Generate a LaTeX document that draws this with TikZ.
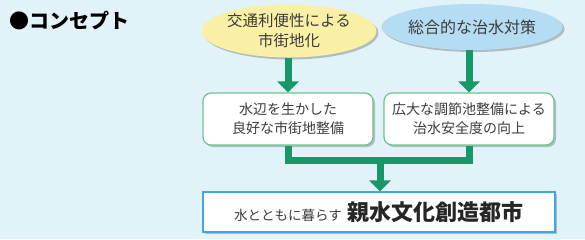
\documentclass[tikz,border=0pt]{standalone}
\usepackage{fontspec}
\newfontfamily\jp{Noto Sans CJK JP}
\usetikzlibrary{arrows.meta,shadows}
\definecolor{bgc}{RGB}{225,243,248}
\definecolor{yelc}{RGB}{250,240,165}
\definecolor{bluc}{RGB}{180,220,242}
\definecolor{linec}{RGB}{24,152,104}
\definecolor{boxg}{RGB}{110,195,140}
\definecolor{boxb}{RGB}{60,170,225}
\definecolor{txt}{RGB}{60,60,60}
\tikzset{
  shad/.style={drop shadow={shadow xshift=2pt,shadow yshift=-2pt,opacity=.22,fill=black}},
  ell/.style={ellipse,shad,text=txt,align=center,inner sep=0pt},
  gbox/.style={draw=boxg,line width=1.2pt,rounded corners=8pt,fill=white,shad,text=txt,align=center,
    minimum width=170pt,minimum height=52pt,font=\jp\fontsize{14}{19}\selectfont},
  gline/.style={draw=linec,line width=7pt},
  garrow/.style={gline,-{Triangle[width=21pt,length=11pt]}}
}
\usetikzlibrary{shapes.geometric}
\begin{document}
\begin{tikzpicture}[x=1pt,y=-1pt]
\fill[bgc] (0,0) rectangle (585,239);
\useasboundingbox (0,0) rectangle (585,239);
\node[anchor=west,font=\jp\bfseries\fontsize{20}{24}\selectfont,text=black,inner sep=0pt] (title) at (9,21) {●コンセプト};
\node[ell,fill=yelc,minimum width=172pt,minimum height=53pt,font=\jp\fontsize{15.5}{20}\selectfont] (e1) at (289,31) {交通利便性による\\市街地化};
\node[ell,fill=bluc,minimum width=172pt,minimum height=46pt,font=\jp\fontsize{16}{20}\selectfont] (e2) at (472,27) {総合的な治水対策};
\node[gbox] (b1) at (288,119) {水辺を生かした\\良好な市街地整備};
\node[gbox] (b2) at (469,119) {広大な調節池整備による\\治水安全度の向上};
\node[draw=boxb,line width=1.2pt,fill=white,shad,minimum width=352pt,minimum height=40pt,text=txt] (b3) at (379,212)
  {\jp\fontsize{13.5}{16}\selectfont 水とともに暮らす\hspace{6pt}{\bfseries\color{black!85}\fontsize{22}{24}\selectfont 親水文化創造都市}};
\coordinate (j) at (380,160);
\draw[garrow] (e1.south -| b1.north) -- (b1.north);
\draw[garrow] (e2.south -| b2.north) -- (b2.north);
\draw[gline] (b1.south) |- ([xshift=3.5pt]j);
\draw[gline] (b2.south) |- ([xshift=-3.5pt]j);
\draw[garrow] ([yshift=-3.5pt]j) -- (b3.north -| j);
\end{tikzpicture}
\end{document}
